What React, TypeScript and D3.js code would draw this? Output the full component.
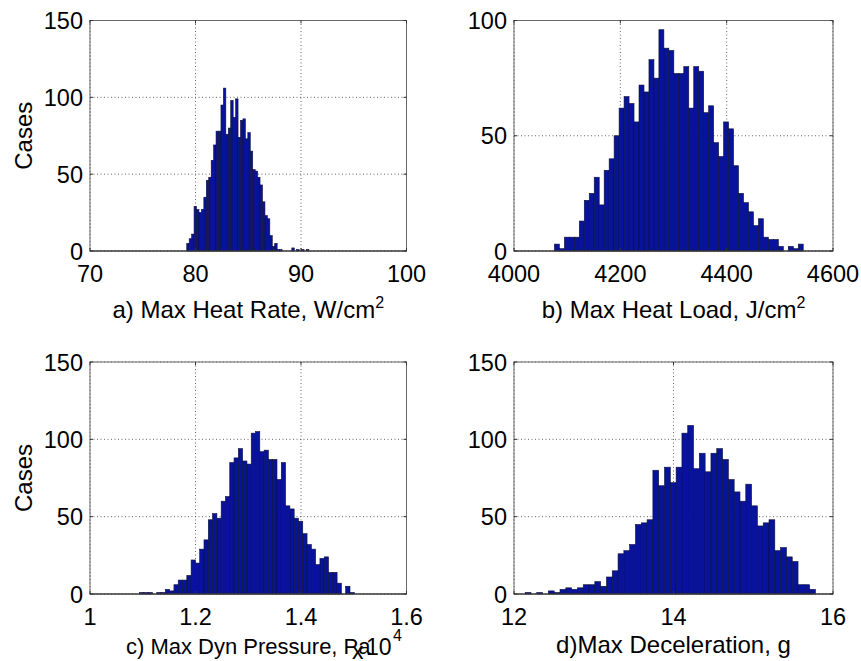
import React from 'react';
import * as d3 from 'd3';

// ---- Data (histogram counts, 50 bins each) ----
const countsA = [5, 8, 11, 29, 27, 25, 27, 35, 46, 48, 59, 69, 78, 78, 95, 106, 76, 80, 98, 87, 99, 74, 85, 86, 73, 77, 65, 53, 52, 48, 43, 32, 23, 21, 10, 3, 5, 1, 1, 0, 0, 0, 0, 2, 0, 1, 0, 1, 0, 1];
const rangeA = [79.17, 90.75];

const countsB = [3, 1, 6, 6, 6, 13, 22, 25, 32, 20, 35, 40, 50, 62, 67, 64, 56, 72, 69, 83, 75, 96, 88, 87, 77, 77, 80, 62, 80, 78, 60, 63, 47, 41, 56, 53, 37, 25, 21, 17, 11, 14, 6, 5, 5, 2, 0, 2, 1, 3];
const rangeB = [4076, 4544];

const countsC = [1, 1, 1, 0, 1, 1, 3, 2, 6, 9, 9, 12, 22, 20, 29, 35, 48, 52, 49, 60, 63, 85, 88, 94, 86, 84, 104, 105, 92, 93, 87, 87, 74, 85, 57, 55, 49, 47, 39, 32, 29, 19, 23, 24, 14, 14, 7, 0, 5, 1];
const rangeC = [1.094, 1.501]; // x 10^4 Pa

const countsD = [1, 0, 1, 0, 2, 1, 3, 4, 3, 4, 6, 6, 8, 5, 11, 15, 26, 28, 32, 45, 46, 48, 80, 70, 82, 72, 82, 104, 109, 81, 91, 79, 91, 94, 87, 74, 66, 60, 71, 57, 44, 46, 48, 28, 30, 24, 21, 6, 6, 3];
const rangeD = [12.14, 15.78];

const xTicksA = [70, 80, 90, 100];
const xTicksB = [4000, 4200, 4400, 4600];
const xTicksC = [1, 1.2, 1.4, 1.6];
const xTicksD = [12, 14, 16];
const yTicks150 = [0, 50, 100, 150];
const yTicks100 = [0, 50, 100];

const FONT = "'Liberation Sans', Arial, Helvetica, sans-serif";
const BAR_FILL = '#06139a';
const BAR_EDGE = '#10103a';
const TICK_FS = 23.5;

type PanelProps = {
  left: number; right: number; top: number; bottom: number;
  xDomain: number[]; xTicks: number[]; yDomain: number[]; yTicks: number[];
  counts: number[]; range: number[];
};

function Panel({ left, right, top, bottom, xDomain, xTicks, yDomain, yTicks, counts, range }: PanelProps) {
  const xs = d3.scaleLinear().domain(xDomain).range([left, right]);
  const ys = d3.scaleLinear().domain(yDomain).range([bottom, top]);
  const n = counts.length;
  const bw = (range[1] - range[0]) / n;
  const bins = counts.map((c, i) => ({ x0: range[0] + i * bw, x1: range[0] + (i + 1) * bw, c }));
  const tl = 3;
  return (
    <g>
      {xTicks.map((t, i) => (
        <line key={'gx' + i} x1={xs(t)} x2={xs(t)} y1={top} y2={bottom} stroke="#555" strokeWidth={0.9} strokeDasharray="1 2.5" />
      ))}
      {yTicks.map((t, i) => (
        <line key={'gy' + i} x1={left} x2={right} y1={ys(t)} y2={ys(t)} stroke="#555" strokeWidth={0.9} strokeDasharray="1 2.5" />
      ))}
      {bins.filter(b => b.c > 0).map((b, i) => (
        <rect key={'b' + i} x={xs(b.x0)} y={ys(b.c)} width={xs(b.x1) - xs(b.x0)} height={ys(0) - ys(b.c)}
          fill={BAR_FILL} stroke={BAR_EDGE} strokeWidth={0.6} />
      ))}
      <rect x={left} y={top} width={right - left} height={bottom - top} fill="none" stroke="#666" strokeWidth={1} />
      <line x1={left} x2={right} y1={bottom} y2={bottom} stroke="#222" strokeWidth={1} />
      {xTicks.map((t, i) => (
        <g key={'tx' + i}>
          <line x1={xs(t)} x2={xs(t)} y1={bottom} y2={bottom - tl} stroke="#333" />
          <line x1={xs(t)} x2={xs(t)} y1={top} y2={top + tl} stroke="#333" />
          <text x={xs(t)} y={bottom + 31} textAnchor="middle" fontSize={TICK_FS} fontFamily={FONT} fill="#000">{String(t)}</text>
        </g>
      ))}
      {yTicks.map((t, i) => (
        <g key={'ty' + i}>
          <line x1={left} x2={left + tl} y1={ys(t)} y2={ys(t)} stroke="#333" />
          <line x1={right} x2={right - tl} y1={ys(t)} y2={ys(t)} stroke="#333" />
          <text x={left - 7} y={ys(t) + 8.5} textAnchor="end" fontSize={TICK_FS} fontFamily={FONT} fill="#000">{String(t)}</text>
        </g>
      ))}
    </g>
  );
}

export default function App() {
  const L1 = 90, R1 = 406.5, L2 = 514, R2 = 833;
  const T1 = 20.5, B1 = 251, T2 = 362, B2 = 594;
  return (
    <svg width={861} height={661} style={{ position: 'absolute', left: 0, top: 0, background: '#fff' }}>
      <rect x={0} y={0} width={861} height={661} fill="#fff" />
      <Panel left={L1} right={R1} top={T1} bottom={B1} xDomain={[70, 100]} xTicks={xTicksA}
        yDomain={[0, 150]} yTicks={yTicks150} counts={countsA} range={rangeA} />
      <Panel left={L2} right={R2} top={T1} bottom={B1} xDomain={[4000, 4600]} xTicks={xTicksB}
        yDomain={[0, 100]} yTicks={yTicks100} counts={countsB} range={rangeB} />
      <Panel left={L1} right={R1} top={T2} bottom={B2} xDomain={[1, 1.6]} xTicks={xTicksC}
        yDomain={[0, 150]} yTicks={yTicks150} counts={countsC} range={rangeC} />
      <Panel left={L2} right={R2} top={T2} bottom={B2} xDomain={[12, 16]} xTicks={xTicksD}
        yDomain={[0, 150]} yTicks={yTicks150} counts={countsD} range={rangeD} />

      <text transform={`translate(32,${(T1 + B1) / 2}) rotate(-90)`} textAnchor="middle" fontSize={24} fontFamily={FONT}>Cases</text>
      <text transform={`translate(32,${(T2 + B2) / 2}) rotate(-90)`} textAnchor="middle" fontSize={24} fontFamily={FONT}>Cases</text>

      <text x={(L1 + R1) / 2} y={318} textAnchor="middle" fontSize={24} fontFamily={FONT}>
        a) Max Heat Rate, W/cm<tspan dy={-10} fontSize={16}>2</tspan>
      </text>
      <text x={(L2 + R2) / 2} y={318} textAnchor="middle" fontSize={24} fontFamily={FONT}>
        b) Max Heat Load, J/cm<tspan dy={-10} fontSize={16}>2</tspan>
      </text>
      <text x={(L1 + R1) / 2} y={654} textAnchor="middle" fontSize={22} fontFamily={FONT}>c) Max Dyn Pressure, Pa</text>
      <text x={(L2 + R2) / 2} y={653} textAnchor="middle" fontSize={24} fontFamily={FONT}>d)Max Deceleration, g</text>

      <text x={352} y={659} fontSize={23} fontFamily={FONT}>x</text>
      <text x={366} y={655} fontSize={23} fontFamily={FONT}>10</text>
      <text x={393} y={641} fontSize={16} fontFamily={FONT}>4</text>
    </svg>
  );
}
